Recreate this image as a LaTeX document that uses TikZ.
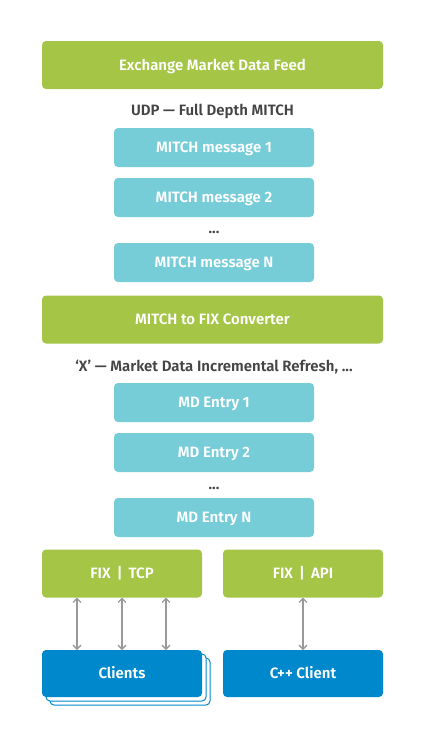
\documentclass[tikz,border=0pt]{standalone}
\usepackage{fontspec}
\setmainfont{Fira Sans}[BoldFont={Fira Sans SemiBold}]
\usetikzlibrary{arrows.meta}
\definecolor{feedgreen}{HTML}{A4C546}
\definecolor{msgcyan}{HTML}{76CDD8}
\definecolor{clientblue}{HTML}{0088CC}
\definecolor{labelgray}{HTML}{444444}
\definecolor{arrowgray}{HTML}{999999}
\tikzset{
  boxfont/.style={font=\bfseries\fontsize{15}{17}\selectfont, text height=10.5pt, text depth=0pt},
  widebox/.style={fill=feedgreen, rounded corners=4pt, minimum width=341pt, minimum height=48pt, text=white, boxfont},
  halfbox/.style={widebox, minimum width=160pt},
  msgbox/.style={fill=msgcyan, rounded corners=4pt, minimum width=200pt, minimum height=39pt, text=white, boxfont},
  clientbox/.style={fill=clientblue, rounded corners=4pt, minimum width=160pt, minimum height=47pt, text=white, boxfont},
  caption/.style={text=labelgray, boxfont},
  link/.style={draw=arrowgray, line width=1.3pt, {Straight Barb[length=4pt,width=8pt]}-{Straight Barb[length=4pt,width=8pt]}}
}
\begin{document}
\begin{tikzpicture}[x=1pt, y=-1pt, inner sep=0pt, outer sep=0pt]
  \useasboundingbox (0,0) rectangle (425,744);

  % Eingang
  \node[widebox] (feed) at (212.5,65) {Exchange Market Data Feed};
  \node[caption] (udp) at (212.5,110) {UDP — Full Depth MITCH};
  \node[msgbox] (msg1) at (214,147.5) {MITCH message 1};
  \node[msgbox] (msg2) at (214,197.5) {MITCH message 2};
  \node[caption] (msgdots) at (214,228) {...};
  \node[msgbox] (msgN) at (214,262.5) {MITCH message N};

  % Konverter
  \node[widebox] (conv) at (212.5,319.5) {MITCH to FIX Converter};
  \node[caption] (refresh) at (214,366) {‘X’ — Market Data Incremental Refresh, ...};
  \node[msgbox] (md1) at (214,402.5) {MD Entry 1};
  \node[msgbox] (md2) at (214,452.5) {MD Entry 2};
  \node[caption] (mddots) at (214,484) {...};
  \node[msgbox] (mdN) at (214,517.5) {MD Entry N};

  % Ausgaenge
  \node[halfbox] (tcp) at (122,573.5) {FIX \,|\, TCP};
  \node[halfbox] (api) at (303,573.5) {FIX \,|\, API};

  % Clients (gestapelt)
  \foreach \d in {8,4}
    \draw[clientblue, fill=white, line width=1pt, rounded corners=4pt] (42+\d,650+\d) rectangle (202+\d,697+\d);
  \node[clientbox] (clients) at (122,673.5) {Clients};
  \node[clientbox] (cpp) at (303,673.5) {C++ Client};

  % Verbindungen
  \foreach \x in {77,122,166}
    \draw[link] (tcp.south -| \x,0) -- (clients.north -| \x,0);
  \draw[link] (api.south) -- (cpp.north);
\end{tikzpicture}
\end{document}
